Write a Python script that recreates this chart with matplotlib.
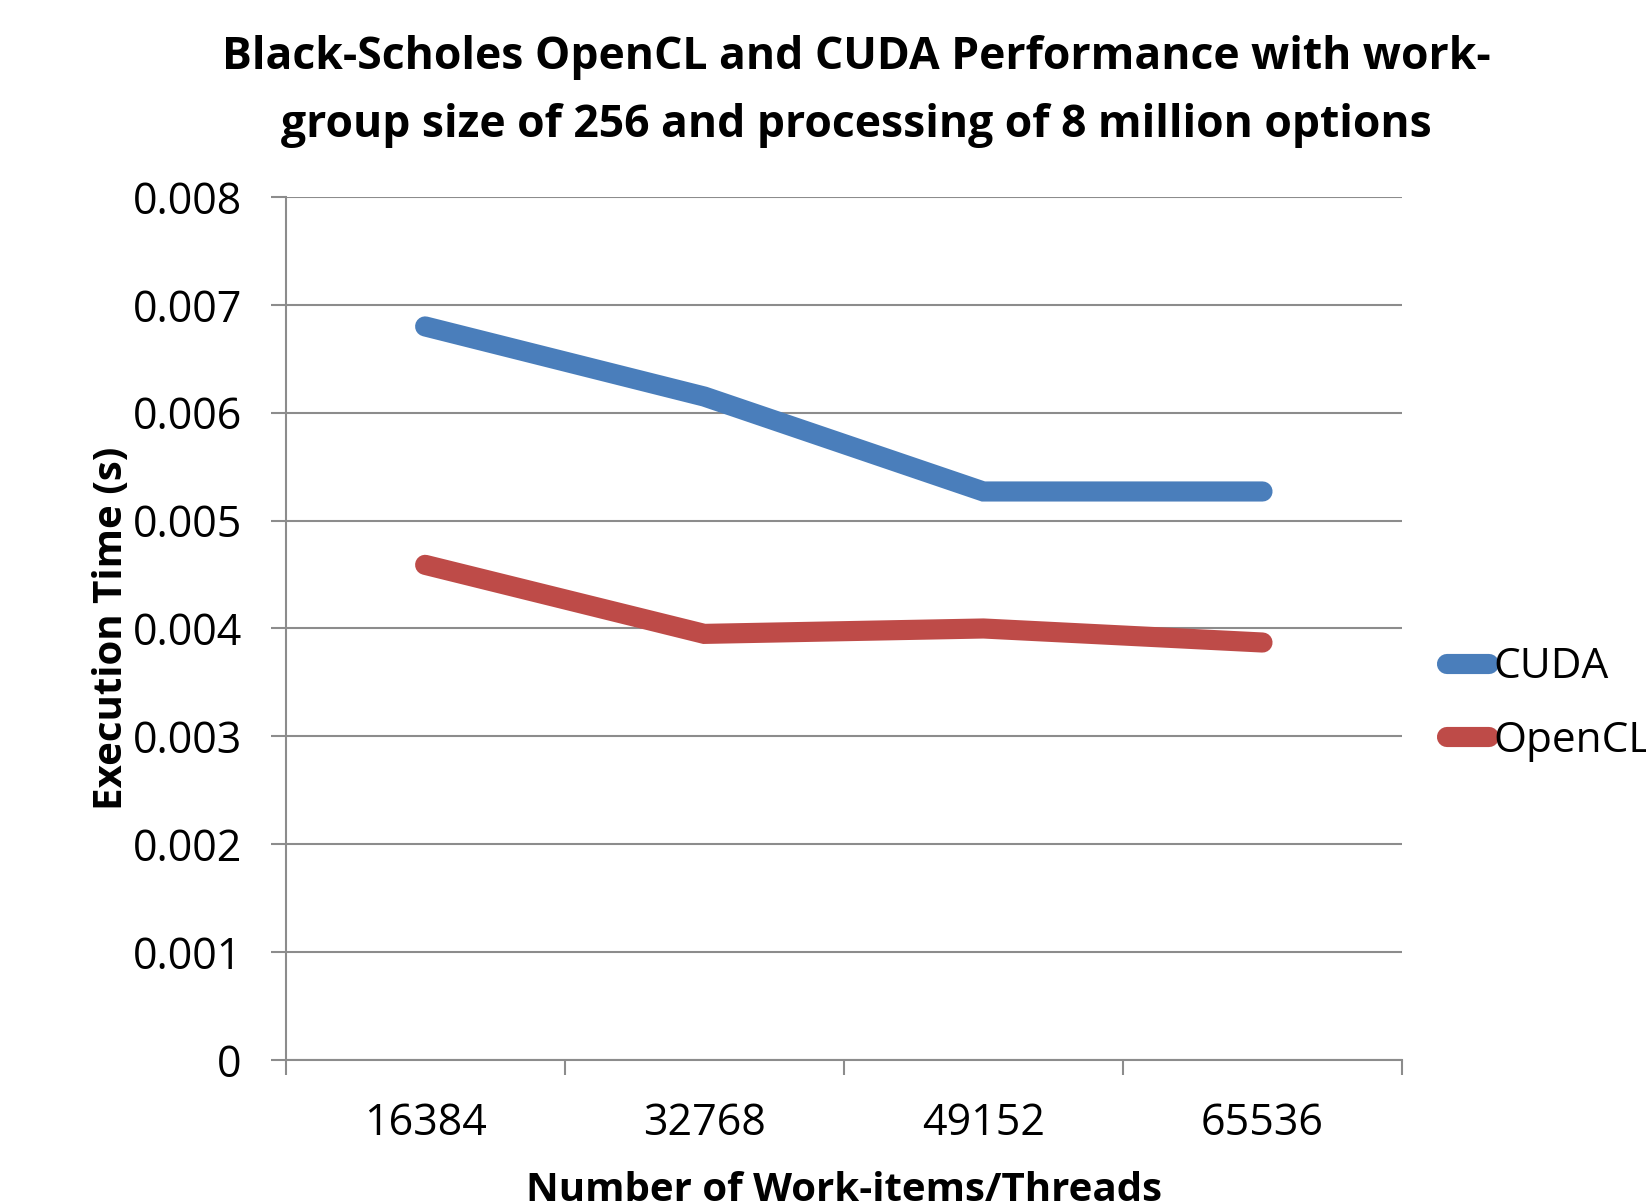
import matplotlib
matplotlib.use("Agg")
import matplotlib.pyplot as plt
import numpy as np

plt.rcParams["font.family"] = ["Open Sans", "DejaVu Sans"]

work_items = ["16384", "32768", "49152", "65536"]
cuda_times = [0.0068, 0.00615, 0.00527, 0.00527]
opencl_times = [0.00459, 0.00395, 0.00400, 0.00387]

GRID = "#8c8c8c"

fig = plt.figure(figsize=(16.46, 12.04), dpi=100)
ax = fig.add_axes([0.1735, 0.1196, 0.6783, 0.7168])

x = np.arange(len(work_items))
ax.plot(x, cuda_times, color="#4a7ebb", lw=14.5, solid_capstyle="round",
        solid_joinstyle="miter", label="CUDA")
ax.plot(x, opencl_times, color="#be4b48", lw=14.5, solid_capstyle="round",
        solid_joinstyle="miter", label="OpenCL")

ax.set_xlim(-0.5, len(work_items) - 0.5)
ax.set_ylim(0, 0.008)
ax.set_yticks(np.arange(0, 0.0081, 0.001))
ax.set_yticklabels(["0"] + [f"{v:.3f}" for v in np.arange(0.001, 0.0081, 0.001)])
ax.yaxis.grid(True, color=GRID, lw=1.5)
ax.set_axisbelow(True)

# category boundaries get the tick marks, labels sit in the middle
ax.set_xticks(np.arange(-0.5, len(work_items)), minor=False)
ax.set_xticklabels([])
ax.set_xticks(x, minor=True)
ax.set_xticklabels(work_items, minor=True)
ax.tick_params(axis="x", which="minor", length=0, pad=30, labelsize=31)
ax.tick_params(axis="x", which="major", length=10.5, width=1.5, color=GRID)
ax.tick_params(axis="y", length=10.5, width=1.5, color=GRID, labelsize=31, pad=21)

for side in ["top", "right"]:
    ax.spines[side].set_visible(False)
for side in ["left", "bottom"]:
    ax.spines[side].set_color(GRID)
    ax.spines[side].set_linewidth(1.5)

ax.set_ylabel("Execution Time (s)", fontsize=29, fontweight="bold", labelpad=1)
ax.set_xlabel("Number of Work-items/Threads", fontsize=29, fontweight="bold",
              labelpad=18)

fig.suptitle("Black-Scholes OpenCL and CUDA Performance with work-\n"
             "group size of 256 and processing of 8 million options",
             x=0.52, y=0.924, va="center", fontsize=32, fontweight="bold",
             linespacing=1.66)

fig.legend(loc="center left", bbox_to_anchor=(0.856, 0.415), frameon=False,
           fontsize=30.5, handlelength=1.0, handletextpad=0.1, labelspacing=0.75)

fig.savefig("out.png", dpi=100)
